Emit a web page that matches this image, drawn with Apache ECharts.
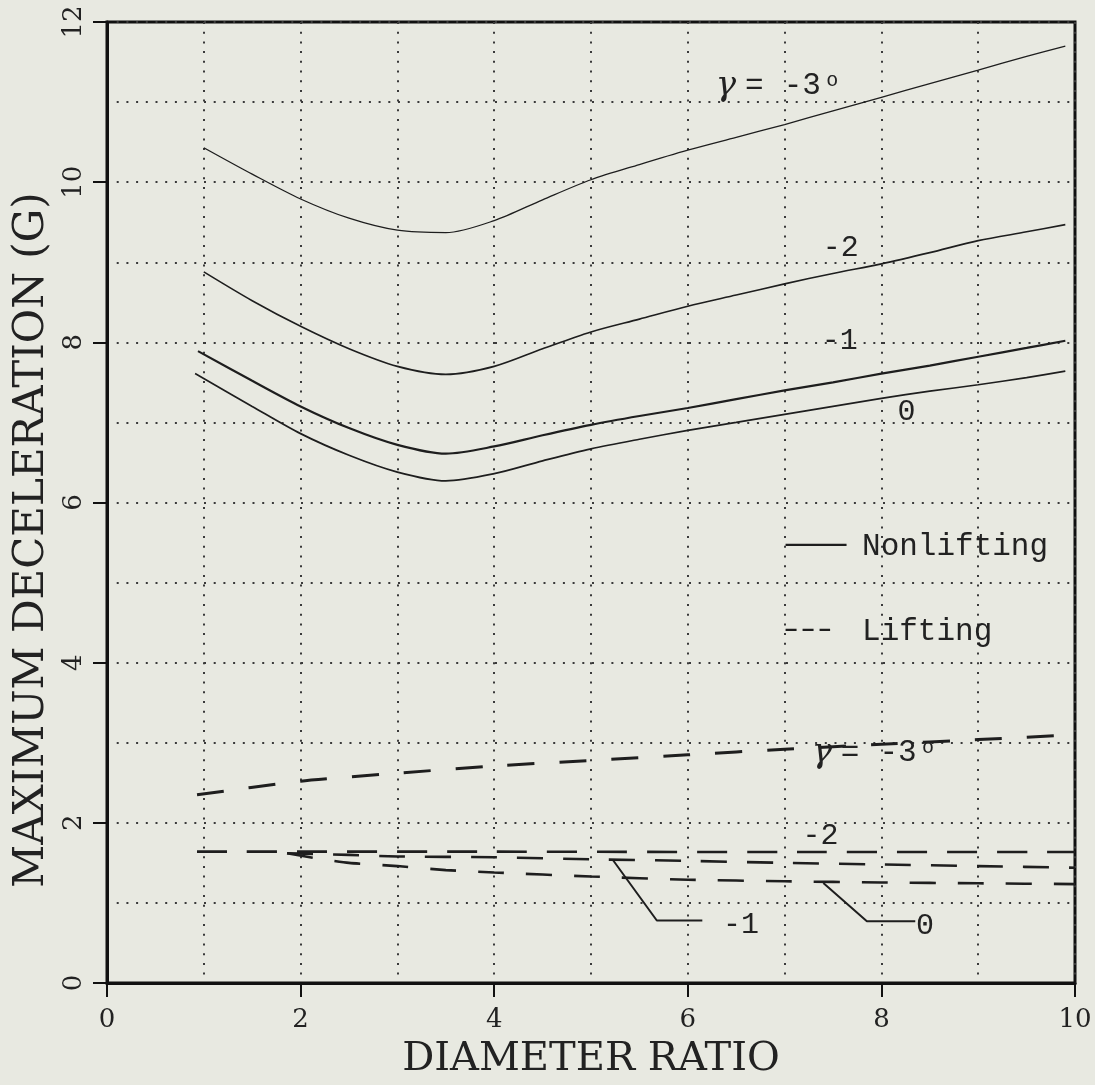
<!DOCTYPE html>
<html><head><meta charset="utf-8">
<script src="https://cdn.jsdelivr.net/npm/echarts@6/dist/echarts.min.js"></script>
<style>html,body{margin:0;padding:0;background:#e8e9e1;}#c{width:1095px;height:1085px;}</style>
</head><body><div id="c"></div>
<script>
// ---- Nonlifting (solid) curves ----
const nl_m3_x = [1.0, 1.5, 2, 2.5, 3, 3.5, 4, 4.5, 5, 5.5, 6, 6.5, 7, 7.5, 8, 8.5, 9, 9.5, 9.9];
const nl_m3_y = [10.43, 10.10, 9.79, 9.55, 9.40, 9.37, 9.52, 9.78, 10.03, 10.22, 10.40, 10.56, 10.72, 10.89, 11.06, 11.23, 11.40, 11.57, 11.70];
const nl_m2_x = [1.0, 1.5, 2, 2.5, 3, 3.5, 4, 4.5, 5, 5.5, 6, 6.5, 7, 7.5, 8, 8.5, 9, 9.5, 9.9];
const nl_m2_y = [8.88, 8.52, 8.20, 7.92, 7.70, 7.60, 7.70, 7.92, 8.13, 8.29, 8.45, 8.59, 8.73, 8.86, 8.98, 9.12, 9.27, 9.38, 9.47];
const nl_m1_x = [0.94, 1.5, 2, 2.5, 3, 3.5, 4, 4.5, 5, 5.5, 6, 6.5, 7, 7.5, 8, 8.5, 9, 9.5, 9.9];
const nl_m1_y = [7.89, 7.52, 7.20, 6.93, 6.72, 6.61, 6.70, 6.84, 6.97, 7.08, 7.18, 7.29, 7.40, 7.50, 7.61, 7.71, 7.82, 7.93, 8.02];
const nl_0_x = [0.91, 1.5, 2, 2.5, 3, 3.5, 4, 4.5, 5, 5.5, 6, 6.5, 7, 7.5, 8, 8.5, 9, 9.5, 9.9];
const nl_0_y = [7.61, 7.20, 6.86, 6.59, 6.38, 6.27, 6.36, 6.52, 6.67, 6.79, 6.90, 7.00, 7.10, 7.20, 7.30, 7.39, 7.47, 7.56, 7.64];
// ---- Lifting (dashed) curves ----
const l_m3_x = [0.93, 2, 3, 4, 5, 6, 7, 8, 9, 10];
const l_m3_y = [2.35, 2.52, 2.62, 2.71, 2.78, 2.85, 2.92, 2.98, 3.04, 3.10];
const l_m2_x = [0.93, 4, 7, 10];
const l_m2_y = [1.64, 1.64, 1.635, 1.635];
const l_m1_x = [1.86, 2.5, 3, 4, 5, 6, 7, 8, 9, 10];
const l_m1_y = [1.62, 1.60, 1.58, 1.57, 1.545, 1.525, 1.50, 1.48, 1.46, 1.44];
const l_0_x = [1.86, 2.2, 2.5, 3, 3.5, 4, 5, 6, 7, 8, 9, 10];
const l_0_y = [1.62, 1.55, 1.50, 1.46, 1.41, 1.38, 1.33, 1.29, 1.27, 1.255, 1.245, 1.235];
// ---- leader lines for labels ----
const lead_m1_x = [5.23, 5.68, 6.15];
const lead_m1_y = [1.53, 0.78, 0.78];
const lead_0_x = [7.40, 7.85, 8.35];
const lead_0_y = [1.25, 0.77, 0.77];
// ---- legend samples ----
const leg_solid_x = [7.01, 7.64], leg_solid_y = [5.47, 5.47];
const leg_dash_x = [7.01, 7.47], leg_dash_y = [4.41, 4.41];
// ---- axes ----
const xMin = 0, xMax = 10, xStep = 2;
const yMin = 0, yMax = 12, yStep = 2;
const xTitle = 'DIAMETER RATIO';
const yTitle = 'MAXIMUM DECELERATION (G)';
// ---- text annotations (data coords) ----
const annotations = [
  {t:'γ', x:6.29, y:11.2, kind:'gamma'},
  {t:'=', x:6.59, y:11.2, kind:'mono'},
  {t:'-3', x:6.99, y:11.2, kind:'mono'},
  {t:'o', x:7.43, y:11.27, kind:'sup'},
  {t:'-2', x:7.58, y:9.18, kind:'monoC'},
  {t:'-1', x:7.57, y:8.02, kind:'monoC'},
  {t:'0', x:8.26, y:7.13, kind:'monoC'},
  {t:'Nonlifting', x:7.8, y:5.45, kind:'legend'},
  {t:'Lifting', x:7.8, y:4.38, kind:'legend'},
  {t:'γ', x:7.28, y:2.87, kind:'gamma'},
  {t:'=', x:7.58, y:2.87, kind:'mono'},
  {t:'-3', x:7.98, y:2.87, kind:'mono'},
  {t:'o', x:8.42, y:2.94, kind:'sup'},
  {t:'-2', x:7.37, y:1.83, kind:'monoC'},
  {t:'-1', x:6.55, y:0.72, kind:'monoC'},
  {t:'0', x:8.45, y:0.71, kind:'monoC'}
];

const zip = (a, b) => a.map((v, i) => [v, b[i]]);
const INK = '#1e1e1e';
const dotted = {type: [2, 7.7], color: '#3a3a3a', width: 2};

function solid(name, xs, ys, w) {
  return {name, type:'line', data: zip(xs, ys), showSymbol:false, symbol:'none',
    smooth:0.3, lineStyle:{color:INK, width:w}, z:5, silent:true};
}
function dashed(name, xs, ys, w, dash) {
  return {name, type:'line', data: zip(xs, ys), showSymbol:false, symbol:'none',
    smooth:0.2, lineStyle:{color:INK, width:w, type:dash}, z:5, silent:true};
}
function plain(name, xs, ys, w, dash) {
  return {name, type:'line', data: zip(xs, ys), showSymbol:false, symbol:'none',
    lineStyle:{color:INK, width:w, type: dash || 'solid'}, z:6, silent:true};
}

const chart = echarts.init(document.getElementById('c'), null, {renderer:'canvas'});
chart.setOption({
  backgroundColor:'#e8e9e1',
  animation:false,
  grid:{left:107, top:22, width:968, height:966, show:true, borderColor:'#111', borderWidth:3, backgroundColor:'transparent'},
  xAxis:{type:'value', min:xMin, max:xMax, interval:xStep,
    axisLine:{show:true, onZero:false, lineStyle:{color:'#111', width:3}},
    axisTick:{show:true, length:14, lineStyle:{color:'#111', width:2}},
    axisLabel:{fontFamily:'DejaVu Serif', fontSize:26, color:'#222', margin:24},
    splitLine:{show:true, lineStyle:dotted},
    minorTick:{show:false, splitNumber:2},
    minorSplitLine:{show:true, lineStyle:dotted},
    name:xTitle, nameLocation:'middle', nameGap:57,
    nameTextStyle:{fontFamily:'DejaVu Serif', fontSize:40, color:'#222'}},
  yAxis:{type:'value', min:yMin, max:yMax, interval:yStep,
    axisLine:{show:true, onZero:false, lineStyle:{color:'#111', width:3}},
    axisTick:{show:true, length:14, lineStyle:{color:'#111', width:2}},
    axisLabel:{fontFamily:'DejaVu Serif', fontSize:26, color:'#222', margin:20, rotate:90},
    splitLine:{show:true, lineStyle:dotted},
    minorTick:{show:false, splitNumber:2},
    minorSplitLine:{show:true, lineStyle:dotted}},
  series:[
    solid('NL -3', nl_m3_x, nl_m3_y, 1.3),
    solid('NL -2', nl_m2_x, nl_m2_y, 1.6),
    solid('NL -1', nl_m1_x, nl_m1_y, 2.2),
    solid('NL 0', nl_0_x, nl_0_y, 1.7),
    dashed('L -3', l_m3_x, l_m3_y, 3, [27, 25]),
    dashed('L -2', l_m2_x, l_m2_y, 2.6, [30, 20]),
    dashed('L -1', l_m1_x, l_m1_y, 2.6, [26, 20]),
    dashed('L 0', l_0_x, l_0_y, 2.6, [26, 22]),
    plain('lead -1', lead_m1_x, lead_m1_y, 2),
    plain('lead 0', lead_0_x, lead_0_y, 2),
    plain('leg solid', leg_solid_x, leg_solid_y, 2.2),
    plain('leg dash', leg_dash_x, leg_dash_y, 2.2, [11, 6])
  ]
});

const styles = {
  gamma:{font:'italic 34px "DejaVu Serif"', align:'left'},
  mono:{font:'31px "Liberation Mono"', align:'left'},
  sup:{font:'20px "Liberation Mono"', align:'left'},
  monoC:{font:'30px "Liberation Mono"', align:'center'},
  legend:{font:'31px "Liberation Mono"', align:'left'}
};
const graphics = annotations.map(a => {
  const p = chart.convertToPixel({gridIndex:0}, [a.x, a.y]);
  const s = styles[a.kind];
  return {type:'text', x:p[0], y:p[1], z:10, silent:true,
    style:{text:a.t, font:s.font, fill:'#222', textAlign:s.align, textVerticalAlign:'middle'}};
});
graphics.push({type:'text', x:32, y:540, rotation:Math.PI/2, z:10, silent:true,
  style:{text:yTitle, font:'42px "DejaVu Serif"', fill:'#222', textAlign:'center', textVerticalAlign:'middle'}});
chart.setOption({graphic:graphics});
</script></body></html>
